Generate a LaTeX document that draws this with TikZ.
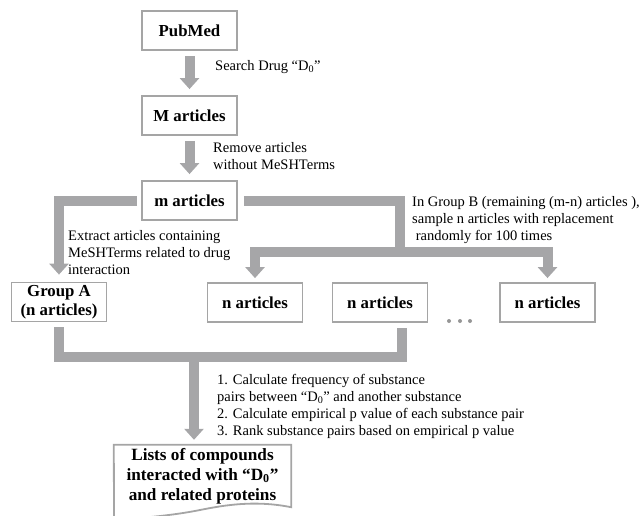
\documentclass[tikz,border=0pt]{standalone}
\usepackage{fontspec}
\setmainfont{Liberation Serif}
\usetikzlibrary{arrows.meta}
\definecolor{flowgray}{RGB}{166,166,168}
\definecolor{boxgray}{RGB}{165,165,165}
\definecolor{dotgray}{RGB}{150,150,150}
\tikzset{
  box/.style={draw=boxgray, line width=1.8pt, minimum width=95pt, minimum height=39pt,
    inner sep=1pt, align=center, font=\fontsize{16.8}{19}\selectfont\bfseries},
  bar/.style={draw=flowgray, line width=10pt, line join=miter},
  flow/.style={bar, -{Triangle[length=11pt,width=19pt]}},
  flowboth/.style={bar, {Triangle[length=11pt,width=19pt]}-{Triangle[length=11pt,width=19pt]}},
  note/.style={align=left, anchor=west, inner sep=0pt, font=\fontsize{14.5}{17}\selectfont},
}

\begin{document}
\begin{tikzpicture}[x=1pt,y=-1pt]
\useasboundingbox (0,0) rectangle (643,515);
% -- Top: search and filter --
\node[box] (pubmed) at (189.5,30.5) {PubMed};
\node[box] (bigm) at (189.5,115.5) {M articles};
\node[box] (smallm) at (189.5,200.5) {m articles};
\draw[flow, shorten <=5pt, shorten >=6pt] (pubmed) -- (bigm);
\node[note] (search) at (215,67) {Search Drug “D\textsubscript{0}”};
\draw[flow, shorten <=5pt, shorten >=6pt] (bigm) -- (smallm);
\node[note] (remove) at (213,156.5) {Remove articles\\without MeSHTerms};
% -- Middle: split into groups --
\node[box] (groupa) at (59,302) {Group A\\(n articles)};
\node[box] (nbox1) at (255,302.5) {n articles};
\node[box] (nbox2) at (380,302.5) {n articles};
\node[box] (nbox3) at (547.5,302.5) {n articles};
\foreach \dx in {449,460,470} {
  \fill[dotgray] (\dx,321) circle (2pt);
}
\draw[flow, shorten <=4pt, shorten >=7pt] (smallm.west) -| (groupa.north);
\node[note] (extract) at (68,253) {Extract articles containing\\MeSHTerms related to drug\\interaction};
\coordinate (split) at (400,252);
\draw[bar, shorten <=6pt] (smallm.east) -| (split);
\draw[flowboth, shorten <=4pt, shorten >=4pt] (nbox1.north) |- (split) -| (nbox3.north);
\node[note] (groupb) at (412,220) {In Group B (remaining (m-n) articles ),\\sample n articles with replacement\\\ randomly for 100 times};
% -- Bottom: merge and rank --
\node[minimum width=177pt, minimum height=62pt, inner sep=0pt, align=center,
  font=\fontsize{17.2}{20}\selectfont\bfseries] (lists) at (202.5,476)
  {Lists of compounds\\interacted with “D\textsubscript{0}”\\and related proteins};
\draw[boxgray, line width=1.8pt, line join=miter] (114,520) -- (lists.north west)
  -- (lists.north east) -- (lists.south east)
  .. controls (255,500) and (225,505) .. (200,510)
  .. controls (170,516) and (140,518) .. (114,520);
\coordinate (joinr) at (402,357);
\coordinate (joinl) at (194,357);
\draw[bar, shorten <=5pt, shorten >=5pt] (groupa.south) |- (joinr) -- (joinr |- nbox2.south);
\draw[flow, shorten >=5pt] (joinl) -- (joinl |- lists.north);
\node[note] (steps) at (217,406) {1. Calculate frequency of substance\\pairs between “D\textsubscript{0}” and another substance\\2. Calculate empirical p value of each substance pair\\3. Rank substance pairs based on empirical p value};
\end{tikzpicture}
\end{document}
